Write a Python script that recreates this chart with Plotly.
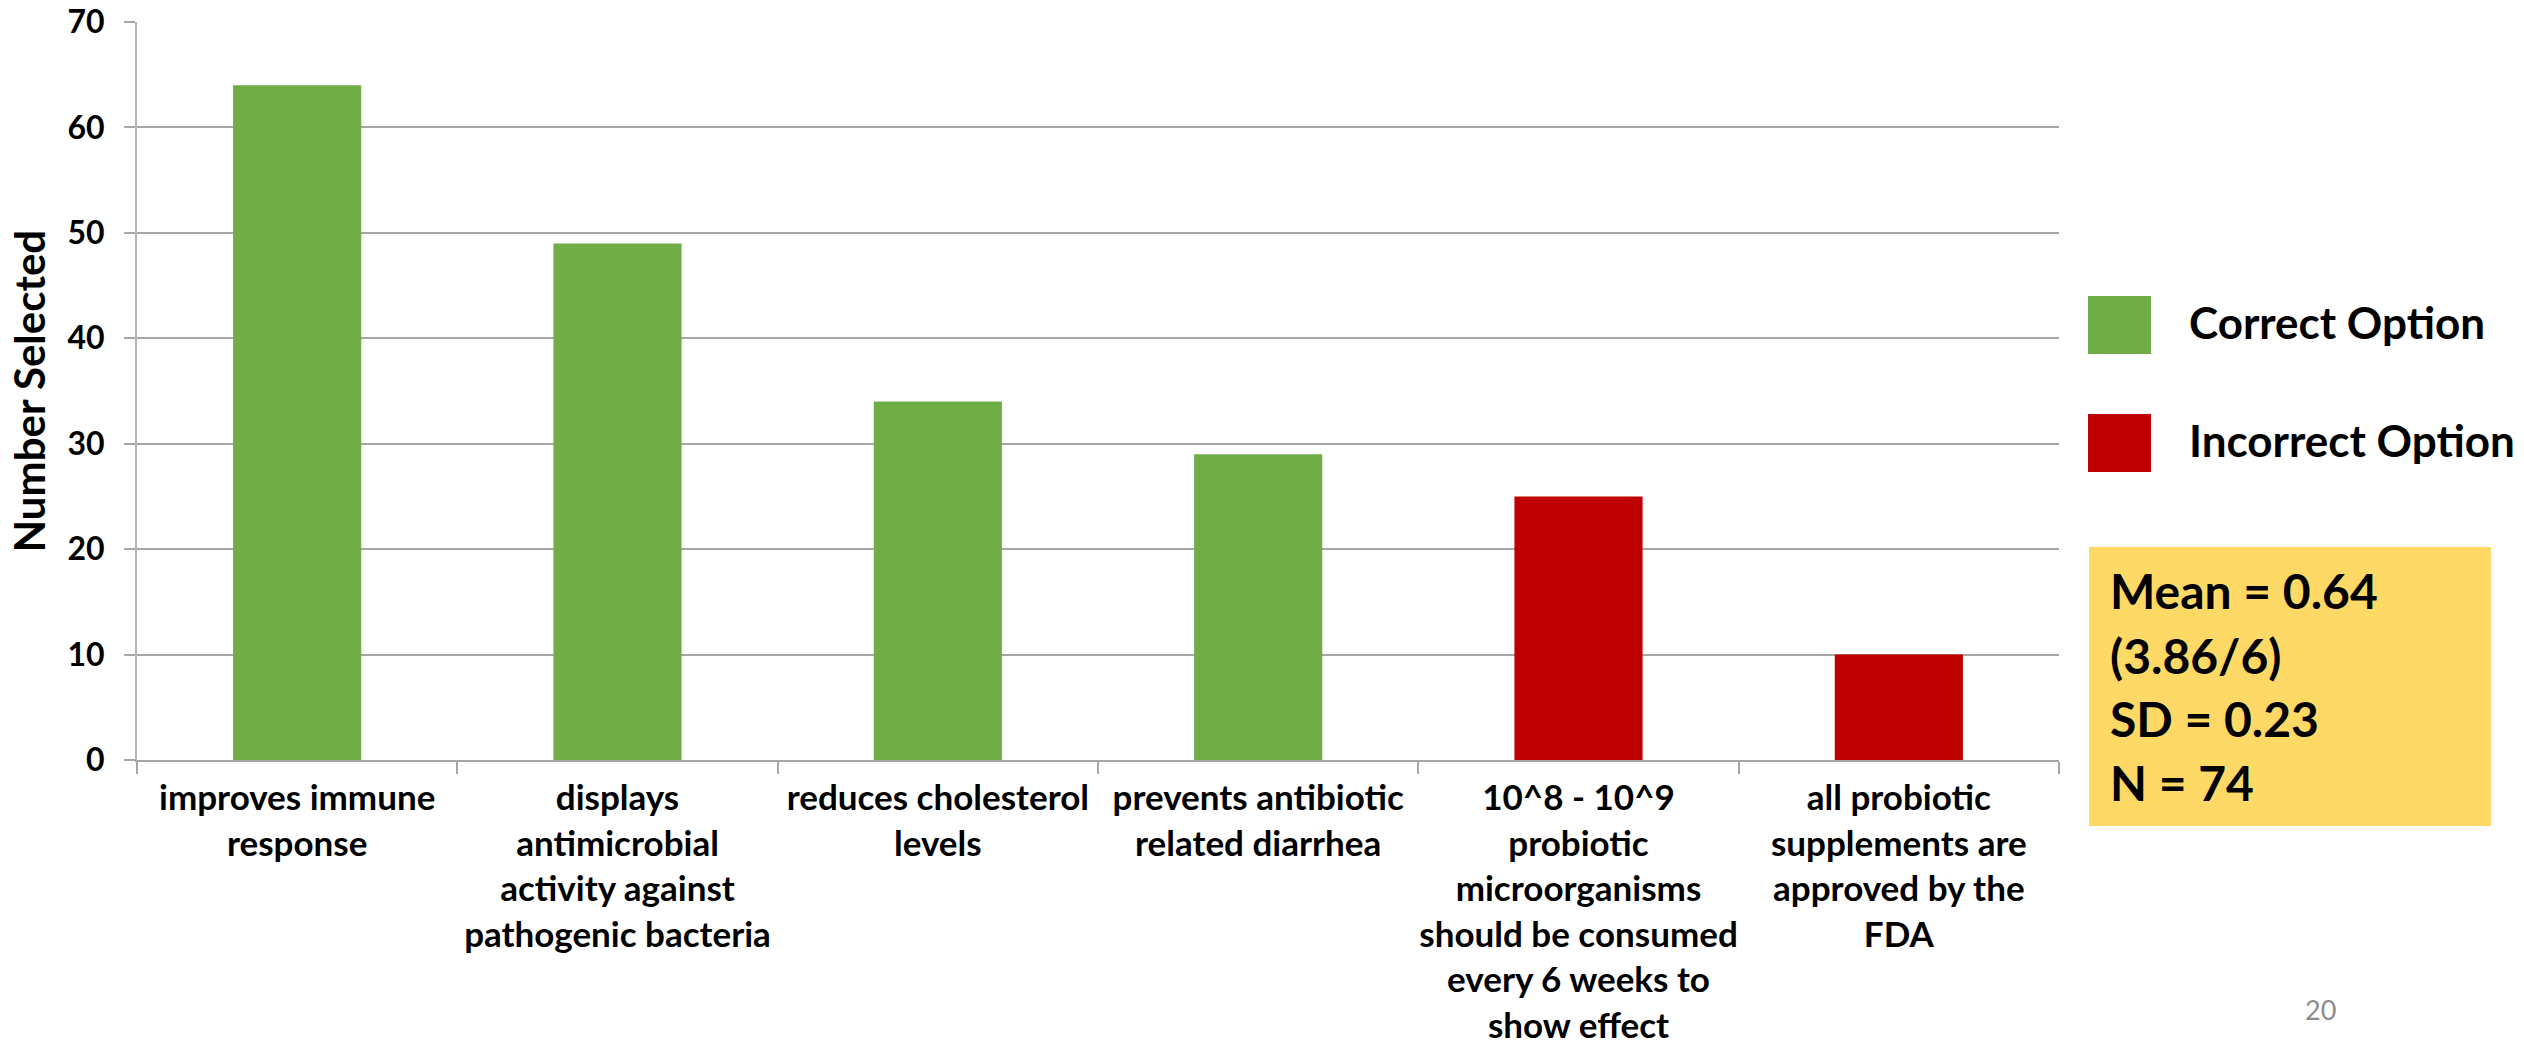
import plotly.graph_objects as go

# Survey results: how many respondents selected each statement
categories = [
    "improves immune<br>response",
    "displays<br>antimicrobial<br>activity against<br>pathogenic bacteria",
    "reduces cholesterol<br>levels",
    "prevents antibiotic<br>related diarrhea",
    "10^8 - 10^9<br>probiotic<br>microorganisms<br>should be consumed<br>every 6 weeks to<br>show effect",
    "all probiotic<br>supplements are<br>approved by the<br>FDA",
]
counts = [64, 49, 34, 29, 25, 10]
is_correct = [True, True, True, True, False, False]
y_ticks = [0, 10, 20, 30, 40, 50, 60, 70]

summary_lines = ["Mean = 0.64", "(3.86/6)", "SD = 0.23", "N = 74"]
page_number = "20"

GREEN = "#70AD47"
RED = "#C00000"
YELLOW = "#FFD966"
GRID = "#A6A6A6"
FONT = "Lato"

W, H = 2524, 1050
L, R, T, B = 137, 2059, 22, 760  # plot area in pixels


def px(x):
    return (x - L) / (R - L)


def py(y):
    return (B - y) / (B - T)


fig = go.Figure()
for flag, name, color in [(True, "Correct Option", GREEN), (False, "Incorrect Option", RED)]:
    xs = [c for c, k in zip(categories, is_correct) if k == flag]
    ys = [v for v, k in zip(counts, is_correct) if k == flag]
    fig.add_trace(go.Bar(x=xs, y=ys, name=name, marker_color=color,
                         marker_line_width=0, width=0.4, showlegend=False))

shapes = []
annotations = []

# legend swatches and labels
for (y0, y1, color, label) in [(296, 354, GREEN, "Correct Option"),
                               (414, 472, RED, "Incorrect Option")]:
    shapes.append(dict(type="rect", xref="paper", yref="paper",
                       x0=px(2088), x1=px(2151), y0=py(y1), y1=py(y0),
                       fillcolor=color, line_width=0))
    annotations.append(dict(xref="paper", yref="paper", x=px(2187), y=py((y0 + y1) / 2 - 3),
                            xanchor="left", yanchor="middle", showarrow=False,
                            text=label, font=dict(family=FONT, size=44, color="black", weight="bold")))

# summary statistics box
shapes.append(dict(type="rect", xref="paper", yref="paper",
                   x0=px(2089), x1=px(2491), y0=py(826), y1=py(547),
                   fillcolor=YELLOW, line_width=0, layer="below"))
for line, yc in zip(summary_lines, [590, 655, 718, 782]):
    annotations.append(dict(xref="paper", yref="paper", x=px(2108), y=py(yc),
                            xanchor="left", yanchor="middle", showarrow=False,
                            text=line, font=dict(family=FONT, size=48, color="black", weight="bold")))

# slide number
annotations.append(dict(xref="paper", yref="paper", x=px(2320), y=py(1009),
                        xanchor="center", yanchor="middle", showarrow=False,
                        text=page_number, font=dict(family=FONT, size=27, color="#8C8C8C")))

fig.update_layout(
    width=W, height=H,
    margin=dict(l=L, r=W - R, t=T, b=H - B, autoexpand=False),
    paper_bgcolor="white", plot_bgcolor="white",
    barmode="overlay",
    shapes=shapes, annotations=annotations,
    font=dict(family=FONT, color="black"),
)
fig.update_xaxes(
    categoryorder="array", categoryarray=categories,
    showline=True, linecolor=GRID, linewidth=2,
    ticks="outside", tickson="boundaries", ticklen=12, tickcolor=GRID, tickwidth=2,
    ticklabelstandoff=6, tickangle=0,
    tickfont=dict(family=FONT, size=35, color="black", weight="bold"),
    showgrid=False, fixedrange=True,
)
fig.update_yaxes(
    range=[0, 70], tickvals=y_ticks,
    showline=True, linecolor="#B4B4B4", linewidth=2,
    ticks="outside", ticklen=11, tickcolor=GRID, tickwidth=2,
    ticklabelstandoff=13,
    tickfont=dict(family=FONT, size=32, color="black", weight="bold"),
    showgrid=True, gridcolor=GRID, gridwidth=2, zeroline=False,
    title=dict(text="Number Selected", standoff=9,
               font=dict(family=FONT, size=42, color="black", weight="bold")),
    fixedrange=True,
)

fig.write_html("out.html")
